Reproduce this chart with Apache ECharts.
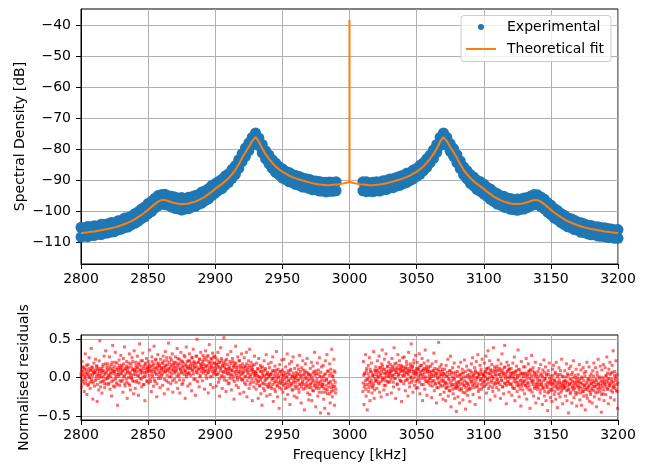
<!DOCTYPE html>
<html><head><meta charset="utf-8">
<script src="https://cdn.jsdelivr.net/npm/echarts@6/dist/echarts.min.js"></script>
<style>html,body{margin:0;padding:0;background:#fff}#c{width:647px;height:466px}</style>
</head><body><div id="c"></div>
<script>
// ---------- data (kHz, dB) ----------
const xTicks = [2800, 2850, 2900, 2950, 3000, 3050, 3100, 3150, 3200];
const yTicksTop = [-110, -100, -90, -80, -70, -60, -50, -40];
const yTicksBottom = [-0.5, 0, 0.5];

// experimental band (sampled every 2.5 kHz): upper and lower samples
const expFreqStart = [2800, 3010];
const expFreqStep = 2.5;
const expHiLeft = [-105.2,-105.4,-104.9,-105.0,-104.7,-104.8,-104.2,-104.3,-104.0,-103.6,-103.7,-103.1,-102.9,-102.2,-102.0,-101.6,-100.8,-100.2,-99.3,-98.6,-97.5,-96.8,-95.8,-94.9,-94.6,-94.5,-95.0,-95.2,-95.4,-95.8,-95.6,-95.9,-95.5,-95.3,-94.9,-94.6,-93.8,-93.4,-92.7,-91.7,-91.1,-90.4,-89.7,-88.6,-87.9,-86.5,-85.3,-83.4,-81.5,-79.6,-78.0,-76.2,-74.8,-76.4,-78.5,-80.5,-81.9,-83.4,-84.5,-85.6,-86.3,-87.1,-87.5,-88.2,-88.5,-88.8,-89.3,-89.5,-89.7,-90.2,-90.3,-90.4,-90.7,-90.7,-90.6,-90.7,-90.5];
const expLoLeft = [-108.3,-108.0,-108.2,-107.8,-107.8,-107.4,-107.5,-107.1,-107.0,-106.7,-106.6,-106.0,-105.8,-105.3,-105.1,-104.4,-103.9,-103.3,-102.4,-101.8,-100.8,-100.1,-99.0,-98.3,-97.7,-97.9,-98.1,-98.7,-99.1,-99.2,-99.6,-99.3,-99.2,-98.7,-98.5,-97.8,-97.4,-96.6,-96.0,-95.0,-94.2,-93.3,-92.7,-91.6,-90.7,-89.4,-88.1,-86.2,-84.0,-82.3,-80.5,-78.5,-77.3,-78.9,-81.2,-83.1,-84.7,-86.2,-87.5,-88.3,-89.3,-89.8,-90.5,-90.8,-91.4,-91.7,-92.2,-92.3,-92.7,-93.1,-93.1,-93.5,-93.5,-93.8,-93.6,-93.6,-93.4];
const expHiRight = [-90.5,-90.5,-90.8,-90.7,-90.5,-90.6,-90.2,-90.1,-89.6,-89.5,-89.1,-88.7,-88.4,-87.8,-87.5,-86.7,-86.2,-85.2,-84.4,-83.1,-81.9,-80.2,-78.5,-76.2,-74.8,-76.2,-78.2,-79.8,-81.8,-83.8,-85.7,-86.9,-88.2,-89.0,-90.0,-90.5,-91.2,-92.3,-92.8,-93.8,-94.3,-95.0,-95.2,-95.7,-95.9,-96.3,-96.1,-96.1,-95.7,-95.6,-95.1,-94.6,-94.7,-95.4,-96.1,-97.2,-98.0,-99.1,-99.8,-100.7,-101.3,-102.1,-102.4,-102.9,-103.5,-103.7,-104.1,-104.5,-104.6,-105.0,-105.0,-105.3,-105.3,-105.6,-105.7,-106.0,-105.9];
const expLoRight = [-93.4,-93.7,-93.6,-93.7,-93.4,-93.5,-93.1,-93.0,-92.5,-92.4,-91.9,-91.7,-91.1,-90.8,-90.1,-89.6,-88.8,-88.1,-87.0,-85.9,-84.4,-83.0,-81.0,-78.9,-77.3,-78.7,-80.7,-82.3,-84.3,-86.3,-88.3,-89.6,-91.0,-91.9,-93.0,-93.6,-94.5,-95.2,-96.2,-96.9,-97.7,-98.0,-98.7,-98.9,-99.4,-99.5,-99.7,-99.4,-99.3,-98.8,-98.3,-97.9,-97.8,-98.5,-99.2,-100.3,-101.1,-102.2,-102.8,-103.7,-104.3,-105.0,-105.3,-105.9,-106.2,-106.8,-106.9,-107.3,-107.6,-107.6,-108.0,-108.1,-108.2,-108.5,-108.5,-108.7,-108.7];

// theoretical fit (every 2.5 kHz) with carrier spike at 3000 kHz
const fitFreqStart = 2800;
const fitFreqStep = 2.5;
const fitLeftDb = [-107.0,-106.9,-106.8,-106.6,-106.5,-106.3,-106.1,-105.9,-105.7,-105.5,-105.2,-104.9,-104.5,-104.1,-103.7,-103.2,-102.6,-101.9,-101.2,-100.4,-99.5,-98.6,-97.7,-96.9,-96.4,-96.4,-96.7,-97.1,-97.4,-97.6,-97.7,-97.7,-97.5,-97.2,-96.9,-96.4,-95.9,-95.3,-94.5,-93.7,-92.8,-92.0,-91.2,-90.3,-89.3,-88.1,-86.7,-84.9,-82.8,-81.0,-79.3,-77.4,-76.1,-77.6,-79.8,-81.6,-83.1,-84.4,-85.6,-86.5,-87.3,-87.9,-88.5,-89.0,-89.4,-89.8,-90.1,-90.4,-90.7,-91.0,-91.2,-91.4,-91.5,-91.6,-91.6,-91.5,-91.4,-91.3,-91.1,-90.8,-90.6];
const fitSpikeFreq = 3000;
const fitSpikeDb = -38.4;
const fitRightDb = [-90.6,-90.8,-91.1,-91.3,-91.4,-91.5,-91.6,-91.6,-91.5,-91.4,-91.2,-91.0,-90.7,-90.4,-90.1,-89.8,-89.4,-89.0,-88.5,-87.9,-87.3,-86.5,-85.6,-84.4,-83.1,-81.6,-79.8,-77.6,-76.1,-77.4,-79.3,-81.0,-82.8,-84.9,-86.7,-88.1,-89.3,-90.3,-91.2,-92.0,-92.8,-93.7,-94.5,-95.3,-95.9,-96.4,-96.9,-97.2,-97.5,-97.7,-97.7,-97.6,-97.4,-97.1,-96.7,-96.4,-96.4,-96.9,-97.7,-98.6,-99.5,-100.4,-101.2,-101.9,-102.6,-103.2,-103.7,-104.1,-104.5,-104.9,-105.2,-105.5,-105.7,-105.9,-106.1,-106.3,-106.5,-106.6,-106.8,-106.9,-107.0];

// normalised residuals: two interleaved sample sets, each every 0.4 kHz
const resFreqStart = [2800, 3010];
const resFreqStart2 = [2800.2, 3010.2];
const resFreqStep = 0.4;
const resLeft = [
.05,-.12,.21,.08,-.03,.14,-.18,.02,.31,-.07,.11,-.22,.04,.17,-.09,.26,.00,-.14,.09,.38,-.05,.13,-.28,.06,.19,
-.11,.07,.24,-.02,.15,-.31,.10,.03,-.16,.22,.48,-.06,.12,.01,-.20,.09,.17,-.04,.28,-.13,.06,.35,-.08,.14,-.01,
.18,-.09,.03,.27,-.15,.11,.06,-.24,.20,.42,-.03,.08,.15,-.12,.33,.01,-.07,.19,-.36,.10,.04,.23,-.10,.13,.29,
-.05,.16,.09,-.19,.25,.02,.40,-.11,.12,-.02,.21,-.27,.07,.14,-.08,.31,.05,-.16,.18,.00,.26,-.04,.11,-.21,.35,
.08,-.14,.20,.13,-.06,.28,.03,-.23,.17,.44,-.01,.10,.22,-.12,.06,.32,-.09,.15,.01,-.30,.19,.07,.25,-.04,.12,
.21,-.07,.14,.36,-.02,.09,-.18,.27,.04,.16,-.11,.41,.08,-.05,.23,.12,-.25,.18,.30,-.01,.06,.15,-.13,.24,.10,
.03,.19,-.10,.28,.13,-.21,.07,.34,.16,-.04,.22,.09,-.15,.45,.11,.01,.26,-.08,.17,.05,.31,-.19,.12,.20,-.02,
.14,.27,-.06,.09,.38,-.14,.18,.02,.24,-.20,.11,.33,.06,-.09,.21,.15,-.03,.29,.08,-.27,.17,.40,.04,.13,-.11,
.22,.05,.31,-.08,.16,.12,-.17,.26,.09,.37,-.02,.19,.14,-.23,.28,.07,.50,-.05,.20,.11,-.12,.24,.03,.33,.15,
.18,-.04,.29,.12,.23,-.15,.08,.35,.16,-.01,.27,.06,-.20,.21,.43,.10,-.09,.25,.14,.02,.32,-.13,.19,.07,.28,
.09,.26,-.11,.17,.04,.33,-.06,.20,-.24,.13,.39,.01,.22,-.14,.15,.07,.52,-.03,.18,.11,-.18,.24,.05,.30,-.08,
.12,-.07,.21,.03,.34,-.16,.09,.25,-.02,.15,-.28,.19,.06,.41,-.10,.13,.00,.27,-.13,.08,.22,-.21,.16,.04,.31,
-.03,.18,.07,-.19,.26,.01,.14,-.09,.33,-.25,.10,.05,.22,-.14,.37,.02,-.06,.20,.11,-.30,.16,.08,-.12,.28,.03,
.06,-.15,.19,-.04,.12,-.27,.25,.01,-.10,.16,-.21,.08,-.36,.14,.03,-.08,.22,-.17,.10,-.02,.30,-.24,.05,-.12,.18,
-.09,.13,-.22,.04,.20,-.14,-.01,.27,-.31,.09,-.06,.15,-.18,.02,.34,-.11,-.25,.11,.00,-.40,.17,-.07,.08,-.15,.23,
.10,-.19,.03,.24,-.08,-.28,.14,.01,-.13,.31,-.22,.06,-.04,.18,-.35,.09,-.10,.21,-.16,.02,.27,-.06,-.24,.12,-.01,
-.14,.07,-.26,.16,-.03,.11,-.19,.29,-.09,.02,-.33,.13,-.07,.22,-.15,.04,-.42,.09,.18,-.11,-.01,.25,-.20,.06,-.29,
.03,-.22,.12,-.08,.20,-.30,-.02,.15,-.17,.08,.33,-.12,-.38,.05,-.05,.19,-.24,.10,-.14,.26,-.09,-.46,.01,.14,-.19,
-.11,.16,-.28,.04,-.40,.22,-.15,-.03,.30,-.21,.09,-.47,-.07,.18,-.33,.11,-.18,.37,-.25,.02,-.12,.24,-.36,.07,-.20];
const resRight = [
-.18,.21,-.35,.05,-.09,.30,-.24,.12,-.42,-.02,.16,-.13,.26,-.30,.08,-.06,.19,-.20,.03,-.11,.34,-.27,.10,-.04,.14,
.09,-.14,.22,.01,-.07,.28,-.19,.13,.05,-.25,.18,.36,-.03,.11,-.16,.24,.00,-.10,.31,.06,-.22,.15,-.05,.20,.03,
-.06,.17,.08,-.20,.25,.02,.13,-.12,.39,-.01,.10,-.27,.19,.07,-.09,.30,.04,-.15,.22,.11,-.04,.16,-.31,.09,.26,
.14,-.08,.27,.03,-.17,.12,.21,-.03,.06,-.24,.33,.09,-.12,.18,.00,.44,-.06,.15,-.19,.08,.23,-.10,.04,.29,-.14,
.07,.20,-.13,.11,-.02,.31,-.21,.05,.16,-.09,.25,-.30,.10,.01,.19,-.15,.36,-.05,.12,-.23,.08,.22,-.07,.14,-.01,
-.10,.15,.02,-.26,.18,-.04,.09,.32,-.17,.06,-.08,.21,-.33,.11,.00,-.13,.46,-.06,.14,-.22,.04,.17,-.11,.08,-.28,
.05,-.19,.11,-.07,-.30,.16,-.13,.02,.24,-.24,-.03,.09,-.17,.28,-.38,.06,-.09,.13,-.21,-.01,.19,-.27,.07,-.14,-.44,
-.12,.08,-.25,.14,-.06,-.33,.03,.20,-.16,-.02,.11,-.29,.06,-.10,.23,-.20,-.41,.01,.15,-.08,-.23,.10,-.15,.04,-.31,
.09,-.14,.18,-.05,.26,-.22,.02,-.09,.13,-.35,.07,.21,-.12,.00,.30,-.18,.05,-.26,.16,-.03,.11,-.15,.24,-.07,.04,
-.04,.19,-.11,.07,.28,-.20,.12,-.02,.35,-.14,.05,.22,-.29,.10,-.06,.17,.01,-.18,.39,-.09,.14,-.24,.08,.03,-.13,
.15,-.07,.23,-.16,.04,.10,-.27,.18,-.03,.31,-.12,.06,-.21,.13,.42,-.08,.02,-.34,.20,-.05,.09,.16,-.19,.11,-.01,
-.09,.12,-.23,.06,.19,-.14,-.01,.27,-.30,.08,-.06,.15,-.18,.03,.36,-.11,-.25,.10,-.04,-.37,.21,-.08,.05,-.16,.14,
.06,-.21,.14,-.10,.25,-.28,.02,-.07,.18,-.16,.09,-.40,.11,-.03,.29,-.19,-.05,.13,-.24,.07,-.12,.20,-.33,.04,-.09,
-.15,.08,-.27,.12,-.04,-.20,.17,-.09,.03,-.35,.10,-.13,.23,-.24,-.01,.14,-.30,.05,-.11,-.43,.09,-.18,.19,-.06,-.26,
.02,-.17,-.31,.11,-.08,.16,-.22,-.03,.07,-.28,.20,-.12,-.39,.04,-.15,.13,-.06,-.25,.09,-.19,.24,-.10,-.34,.01,-.14,
-.11,.09,-.24,-.04,.18,-.30,.05,-.16,-.46,.12,-.08,-.21,.15,-.02,-.33,.07,-.13,.22,-.26,-.06,.03,-.19,.11,-.37,.00,
-.20,.04,-.13,.17,-.29,-.07,.10,-.36,-.01,-.18,.13,-.24,.06,-.10,-.42,.08,-.15,.20,-.27,-.03,-.12,.14,-.31,.02,-.22,
.05,-.16,-.33,.09,-.06,.19,-.25,-.11,.13,-.02,-.38,.07,-.19,.24,-.09,-.28,.01,.15,-.14,-.45,.10,-.04,-.21,.17,-.30,
-.08,.13,-.22,.03,.27,-.15,-.02,-.34,.11,-.10,.20,-.26,.06,-.05,.16,-.19,.35,-.12,-.29,.08,-.01,.22,-.17,.04,-.40];
const resLeft2 = [
.02,.09,-.05,.13,.04,-.08,.11,.00,.07,-.03,.16,.05,-.10,.08,.01,.12,-.06,.04,.10,-.02,.14,.03,-.07,.09,.06,
.07,-.04,.11,.02,.15,-.09,.05,.12,-.01,.08,.03,-.12,.10,.06,-.05,.14,.01,.09,-.08,.04,.18,-.02,.07,.11,.00,
.10,.03,-.07,.14,.06,.01,.17,-.05,.09,.12,-.11,.05,.08,.20,-.02,.11,.04,-.09,.13,.07,.02,.16,-.04,.10,.05,
.06,.13,-.03,.09,.18,.02,-.08,.11,.05,.15,-.06,.08,.12,.00,.19,-.10,.07,.03,.14,-.01,.10,.21,.04,-.05,.09,
.11,.04,.16,-.04,.08,.13,.02,.19,-.07,.10,.06,.15,-.02,.09,.22,.01,.12,-.09,.07,.17,.03,.11,-.05,.14,.08,
.09,.17,.03,.12,-.05,.15,.08,.21,.01,.11,.18,-.03,.13,.06,.24,.04,-.08,.14,.10,.19,.02,.16,.07,-.01,.12,
.13,.05,.19,.09,.22,-.02,.15,.08,.11,.26,.03,.17,-.06,.12,.20,.07,.14,.01,.23,.10,-.04,.16,.09,.18,.06,
.08,.20,.12,.02,.16,.25,.05,.13,-.03,.18,.10,.22,.07,.14,-.07,.19,.11,.04,.27,.09,.15,.01,.21,.06,.12,
.15,.07,.22,.12,.03,.19,.26,.10,.16,.05,.21,.13,-.02,.18,.09,.28,.14,.06,.20,.11,.24,.01,.17,.13,.08,
.12,.21,.06,.17,.26,.09,.14,.03,.23,.15,.10,.29,.07,.18,.13,.01,.20,.16,.24,.08,.12,.27,.05,.19,.14,
.10,.04,.18,.13,.23,.06,.15,-.02,.20,.09,.12,.25,.03,.16,.08,.19,.01,.14,.22,.07,.11,-.04,.17,.10,.05,
.07,.14,-.01,.11,.18,.04,.09,.21,.02,.13,-.05,.16,.08,.19,.03,.10,-.03,.15,.06,.22,.01,.12,.08,-.02,.14,
.05,-.03,.12,.08,-.07,.15,.02,.10,.18,-.04,.07,.13,.00,.16,-.09,.09,.04,.14,-.02,.11,.06,-.06,.17,.03,.08,
-.02,.06,-.08,.03,.11,-.05,.01,-.11,.08,-.03,.13,.00,-.07,.05,-.14,.09,.02,-.04,.12,-.09,.04,-.01,.07,-.12,.03,
.01,-.07,.04,-.12,.06,-.03,.09,-.09,-.01,.03,-.15,.07,-.05,.10,-.02,-.10,.05,-.06,.02,-.13,.08,-.04,-.08,.04,-.01,
-.05,.03,-.10,.07,-.02,-.14,.05,-.06,.01,-.09,.09,-.03,-.12,.04,-.07,.11,-.01,-.08,.02,-.16,.06,-.04,.00,-.11,.03,
-.06,.02,-.11,.05,-.03,-.15,.04,-.08,.08,-.01,-.12,.03,-.05,.10,-.09,-.02,.06,-.14,.01,-.07,.07,-.10,-.04,.04,-.13,
-.02,-.09,.04,-.13,.01,-.06,-.17,.06,-.04,-.10,.03,-.08,.09,-.14,-.01,-.11,.05,-.07,-.19,.02,-.05,.07,-.12,-.03,-.09,
-.08,.01,-.14,-.04,-.19,.05,-.10,-.02,-.16,.08,-.07,-.12,.03,-.21,-.05,.06,-.13,-.09,.02,-.17,-.03,.09,-.11,-.06,-.15];
const resRight2 = [
-.07,.03,-.12,.06,-.04,-.15,.09,-.02,-.09,.05,-.18,.01,-.06,.11,-.10,-.03,.07,-.13,.02,-.08,.04,-.16,-.01,.08,-.05,
.04,-.03,.10,.01,.07,-.08,.13,.03,-.05,.09,.00,.15,-.02,.06,-.10,.11,.05,-.04,.08,.02,.14,-.06,.09,.01,.06,
.06,.12,-.02,.09,.03,.15,-.06,.10,.04,.18,-.01,.07,.13,-.08,.11,.02,.16,.05,-.03,.12,.08,-.05,.14,.03,.09,
.02,.10,.06,-.04,.13,.07,.17,-.02,.09,.04,.12,-.07,.08,.15,.01,.11,-.03,.14,.05,.19,.00,.09,.06,-.05,.12,
.05,-.03,.11,.02,.14,-.06,.08,.03,.16,-.01,.09,.04,-.09,.12,.06,-.02,.10,.01,.15,-.05,.07,.11,-.04,.03,.08,
-.01,.07,-.06,.04,-.11,.09,.02,-.04,.12,-.08,.03,.06,-.13,.05,-.02,.10,-.07,.01,.08,-.10,.04,-.03,.11,-.05,.02,
-.03,-.10,.05,-.06,-.14,.02,-.08,.07,-.12,-.01,-.17,.04,-.07,.09,-.11,-.04,.01,-.15,.06,-.09,-.02,-.13,.03,-.06,-.10,
-.08,.02,-.12,-.05,-.16,.04,-.09,-.02,-.14,.06,-.07,-.19,.01,-.10,-.04,.08,-.13,-.06,-.17,.03,-.08,-.11,.00,-.15,-.03,
.01,-.06,.07,-.10,.03,-.02,-.13,.05,-.07,.09,-.04,.00,-.11,.06,-.08,.02,-.15,.04,-.03,.08,-.09,-.01,.05,-.12,.02,
.03,-.05,.08,.01,-.09,.11,-.02,.06,-.07,.13,.00,-.11,.05,.09,-.04,.02,-.13,.07,-.01,.10,-.06,.04,-.08,.12,-.03,
-.02,.09,-.06,.04,.12,-.09,.01,.07,-.04,.10,-.12,.03,.06,-.07,.14,-.01,.05,-.10,.08,.00,-.05,.11,-.08,.02,.06,
.02,-.08,.05,-.12,.01,.07,-.05,-.14,.04,-.02,.09,-.10,.00,-.06,.11,-.09,.03,-.15,.06,-.03,-.11,.05,-.07,.01,-.04,
-.05,.03,-.10,.06,-.02,-.13,.04,-.07,.08,-.11,-.01,.05,-.16,.02,-.06,.09,-.09,-.03,.03,-.14,.06,-.08,.01,-.12,-.02,
-.06,-.12,.02,-.09,-.03,-.16,.05,-.07,-.11,.01,-.14,-.04,.07,-.18,-.02,-.09,.03,-.13,-.06,-.20,.04,-.08,-.01,-.15,-.05,
-.09,-.02,-.15,.03,-.07,-.12,-.04,-.18,.05,-.10,-.06,-.14,.01,-.08,-.21,-.03,-.11,.04,-.13,-.07,-.16,.02,-.09,-.05,-.12,
-.04,-.13,-.08,.01,-.17,-.06,-.11,.03,-.15,-.09,-.02,-.19,-.07,.04,-.12,-.05,-.16,-.10,.00,-.14,-.08,-.22,-.03,-.11,-.06,
-.10,-.05,-.16,-.02,-.12,-.20,-.07,.01,-.14,-.09,-.18,-.04,-.11,.02,-.15,-.08,-.23,-.06,-.13,-.01,-.17,-.10,-.03,-.19,-.07,
-.08,-.14,-.03,-.11,.02,-.17,-.06,-.12,-.20,-.04,-.09,.03,-.15,-.07,-.13,-.01,-.18,-.10,-.05,-.22,-.08,.00,-.12,-.16,-.06,
-.03,-.09,.02,-.12,-.05,.06,-.15,-.07,-.01,-.11,.04,-.08,-.17,-.02,.07,-.13,-.06,-.10,.03,-.14,-.04,.01,-.09,-.18,-.07];

// ---------- build series data ----------
const expData = [];
[[expHiLeft, expLoLeft, 0], [expHiRight, expLoRight, 1]].forEach(([hi, lo, k]) => {
  hi.forEach((v, i) => expData.push([expFreqStart[k] + i * expFreqStep, v]));
  lo.forEach((v, i) => expData.push([expFreqStart[k] + i * expFreqStep, v]));
});
const fitData = [];
fitLeftDb.forEach((v, i) => fitData.push([fitFreqStart + i * fitFreqStep, v]));
fitData.push([fitSpikeFreq, fitSpikeDb]);
fitRightDb.forEach((v, i) => fitData.push([fitSpikeFreq + i * fitFreqStep, v]));
const resData = [];
[[resLeft, resFreqStart[0]], [resRight, resFreqStart[1]], [resLeft2, resFreqStart2[0]], [resRight2, resFreqStart2[1]]].forEach(([arr, x0]) => {
  arr.forEach((v, i) => resData.push([x0 + i * resFreqStep, v]));
});

const FONT = 'DejaVu Sans';
const minusFmt = (d) => (v) => {
  const s = Math.abs(v).toFixed(d);
  return (v < 0 ? '\u2212' : '') + s;
};
const axisCommon = {
  axisLine: { show: true, onZero: false, lineStyle: { color: '#000', width: 1 } },
  axisTick: { show: true, inside: false, length: 5, lineStyle: { color: '#000', width: 1 } },
  splitLine: { show: true, lineStyle: { color: '#b0b0b0', width: 1 } },
};
const labelStyle = { fontFamily: FONT, fontSize: 14, color: '#000' };
const legendText = (pad) => Object.assign({ rich: { sp: { width: pad } } }, labelStyle);

const chart = echarts.init(document.getElementById('c'), null, { renderer: 'canvas' });
chart.setOption({
  animation: false,
  backgroundColor: '#fff',
  textStyle: { fontFamily: FONT },
  grid: [
    { left: 81, right: 29, top: 9, height: 255, show: true, borderColor: '#000', borderWidth: 1, backgroundColor: 'transparent' },
    { left: 81, right: 29, top: 335, height: 85, show: true, borderColor: '#000', borderWidth: 1, backgroundColor: 'transparent' }
  ],
  xAxis: [
    Object.assign({}, axisCommon, { gridIndex: 0, type: 'value', min: xTicks[0], max: xTicks[xTicks.length - 1], interval: 50,
      axisLabel: Object.assign({ margin: 8, formatter: (v) => String(v) }, labelStyle) }),
    Object.assign({}, axisCommon, { gridIndex: 1, type: 'value', min: xTicks[0], max: xTicks[xTicks.length - 1], interval: 50,
      axisLabel: Object.assign({ margin: 8, formatter: (v) => String(v) }, labelStyle),
      name: 'Frequency [kHz]', nameLocation: 'middle', nameGap: 28, nameTextStyle: labelStyle })
  ],
  yAxis: [
    Object.assign({}, axisCommon, { gridIndex: 0, type: 'value', min: -117, max: -34.85,
      axisTick: Object.assign({}, axisCommon.axisTick, { customValues: yTicksTop }),
      axisLabel: Object.assign({ margin: 10, customValues: yTicksTop, formatter: minusFmt(0) }, labelStyle),
      name: 'Spectral Density [dB]', nameLocation: 'middle', nameGap: 54, nameMoveOverlap: false, nameRotate: 90, nameTextStyle: labelStyle }),
    Object.assign({}, axisCommon, { gridIndex: 1, type: 'value', min: -0.552, max: 0.556,
      axisTick: Object.assign({}, axisCommon.axisTick, { customValues: yTicksBottom }),
      axisLabel: Object.assign({ margin: 10, customValues: yTicksBottom, formatter: minusFmt(1) }, labelStyle),
      name: 'Normalised residuals', nameLocation: 'middle', nameGap: 50, nameMoveOverlap: false, nameRotate: 90, nameTextStyle: labelStyle })
  ],
  legend: [
    { data: ['Experimental'], left: 478, top: 20, padding: 0, itemWidth: 28, itemHeight: 6, icon: 'circle', selectedMode: false, z: 200,
      formatter: (n) => '{sp|}' + n, textStyle: legendText(7) },
    { data: ['Theoretical fit'], left: 466, top: 42, padding: 0, itemWidth: 30, itemHeight: 2, icon: 'rect', selectedMode: false, z: 200,
      formatter: (n) => '{sp|}' + n, textStyle: legendText(6) }
  ],
  graphic: [
    { type: 'rect', z: 150, silent: true, shape: { x: 461, y: 15.5, width: 150, height: 46, r: 3 },
      style: { fill: 'rgba(255,255,255,0.8)', stroke: '#cccccc', lineWidth: 1 } }
  ],
  series: [
    { name: 'Experimental', type: 'scatter', xAxisIndex: 0, yAxisIndex: 0, data: expData,
      symbol: 'circle', symbolSize: 11, itemStyle: { color: '#1f77b4', opacity: 1 }, z: 2 },
    { name: 'Theoretical fit', type: 'line', xAxisIndex: 0, yAxisIndex: 0, data: fitData,
      symbol: 'none', showSymbol: false, lineStyle: { color: '#ff7f0e', width: 2 }, itemStyle: { color: '#ff7f0e' }, z: 3 },
    { name: 'Residuals', type: 'scatter', xAxisIndex: 1, yAxisIndex: 1, data: resData, large: false,
      symbol: 'rect', symbolSize: 3, itemStyle: { color: 'rgba(255,0,0,0.72)' }, z: 2 }
  ]
});
</script>
</body></html>
